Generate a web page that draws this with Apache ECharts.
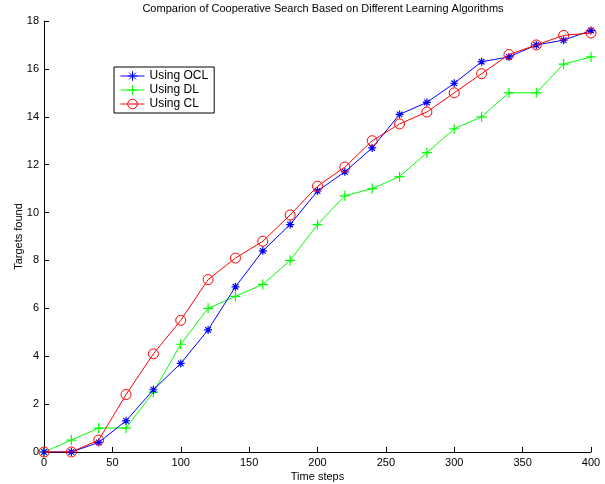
<!DOCTYPE html>
<html>
<head>
<meta charset="utf-8">
<script src="https://cdn.jsdelivr.net/npm/echarts@6/dist/echarts.min.js"></script>
<style>html,body{margin:0;padding:0;background:#fff}#c{width:605px;height:484px}</style>
</head>
<body>
<div id="c"></div>
<script>
var timeSteps = [0,20,40,60,80,100,120,140,160,180,200,220,240,260,280,300,320,340,360,380,400];
var ocl = [0,0,0.4,1.3,2.6,3.7,5.1,6.9,8.4,9.5,10.9,11.7,12.7,14.1,14.6,15.4,16.3,16.5,17.0,17.2,17.6];
var dl  = [0,0.5,1.0,1.0,2.5,4.5,6.0,6.5,7.0,8.0,9.5,10.7,11.0,11.5,12.5,13.5,14.0,15.0,15.0,16.2,16.5];
var cl  = [0,0,0.5,2.4,4.1,5.5,7.2,8.1,8.8,9.9,11.1,11.9,13.0,13.7,14.2,15.0,15.8,16.6,17.0,17.4,17.5];
var seriesNames = ['Using OCL','Using DL','Using CL'];

function pairs(v){ return timeSteps.map(function(t,i){ return [t, v[i]]; }); }
var FONT = 'Liberation Sans, Arial, Helvetica, sans-serif';
var star = 'path://M0,5L10,5M5,0L5,10M1.5,1.5L8.5,8.5M8.5,1.5L1.5,8.5';
var plus = 'path://M0,5L10,5M5,0L5,10';

var chart = echarts.init(document.getElementById('c'));
chart.setOption({
  animation: false,
  backgroundColor: '#fff',
  textStyle: {fontFamily: FONT},
  title: {
    text: 'Comparion of Cooperative Search Based on Different Learning Algorithms',
    left: 318, textAlign: 'center', top: -2,
    textStyle: {fontSize: 11, fontWeight: 'normal', color: '#000', fontFamily: FONT}
  },
  legend: {
    orient: 'vertical', left: 114, top: 67,
    borderColor: '#000', borderWidth: 1,
    padding: [3, 6, 3, 6], itemGap: 2,
    itemWidth: 24, itemHeight: 12,
    lineStyle: {width: 1},
    itemStyle: {borderWidth: 1},
    textStyle: {fontSize: 12, color: '#000', fontFamily: FONT},
    data: seriesNames
  },
  grid: {left: 44, right: 14, top: 21, bottom: 32, containLabel: false, outerBoundsMode: 'none'},
  xAxis: {
    type: 'value', min: 0, max: 400, interval: 50,
    name: 'Time steps', nameLocation: 'middle', nameGap: 19, nameMoveOverlap: false,
    nameTextStyle: {fontSize: 11, color: '#000', fontFamily: FONT},
    axisLine: {lineStyle: {color: '#000', width: 1}},
    axisTick: {inside: true, length: 5, lineStyle: {color: '#000'}},
    axisLabel: {fontSize: 11, color: '#000', margin: 5, fontFamily: FONT},
    splitLine: {show: false}
  },
  yAxis: {
    type: 'value', min: 0, max: 18, interval: 2,
    name: 'Targets found', nameLocation: 'middle', nameGap: 20, nameMoveOverlap: false,
    nameTextStyle: {fontSize: 11, color: '#000', fontFamily: FONT},
    axisLine: {show: true, lineStyle: {color: '#000', width: 1}},
    axisTick: {show: true, inside: true, length: 5, lineStyle: {color: '#000'}},
    axisLabel: {fontSize: 11, color: '#000', margin: 5, fontFamily: FONT},
    splitLine: {show: false}
  },
  series: [
    {name: seriesNames[0], type: 'line', data: pairs(ocl), symbol: star, symbolSize: 8,
     lineStyle: {color: '#0000ff', width: 1},
     itemStyle: {color: '#0000ff', borderColor: '#0000ff', borderWidth: 1.2}, z: 3},
    {name: seriesNames[1], type: 'line', data: pairs(dl), symbol: plus, symbolSize: 10,
     lineStyle: {color: '#00ff00', width: 1},
     itemStyle: {color: '#00ff00', borderColor: '#00ff00', borderWidth: 1.2}, z: 2},
    {name: seriesNames[2], type: 'line', data: pairs(cl), symbol: 'circle', symbolSize: 10,
     lineStyle: {color: '#ff0000', width: 1},
     itemStyle: {color: 'rgba(255,255,255,0)', borderColor: '#ff0000', borderWidth: 1}, z: 4}
  ]
});
</script>
</body>
</html>
